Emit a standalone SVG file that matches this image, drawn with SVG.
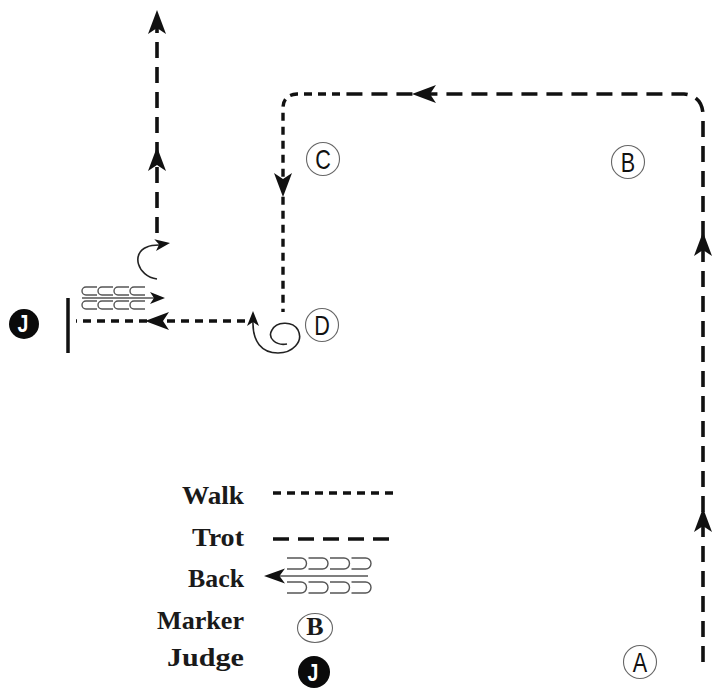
<svg xmlns="http://www.w3.org/2000/svg" xmlns:xlink="http://www.w3.org/1999/xlink" width="712" height="688" viewBox="0 0 712 688">
  <style>
    .walk { fill: none; stroke: #111; stroke-width: 3.4; stroke-dasharray: 8 6; }
    .trot { fill: none; stroke: #111; stroke-width: 3.6; stroke-dasharray: 16 9; }
    .thin { fill: none; stroke: #222; stroke-width: 1.6; }
    .back { fill: none; stroke: #555; stroke-width: 1.4; }
    .head { fill: #111; }
    .ring { fill: #fff; stroke: #666; stroke-width: 1.1; }
    .letter { font-family: "Liberation Sans", Arial, sans-serif; font-size: 27px; fill: #111; text-anchor: middle; }
    .legend { font-family: "Liberation Serif", "Times New Roman", serif; font-weight: bold; font-size: 26px; fill: #1a1a1a; }
    .judge { fill: #0a0a0a; }
    .jtext { font-family: "Liberation Sans", Arial, sans-serif; font-weight: bold; font-size: 23px; fill: #fff; text-anchor: middle; }
  </style>
  <defs>
    <!-- notched arrowheads, tip at origin, pointing along +x -->
    <path id="ah" class="head" d="M0 0 L-24 -9 L-18 0 L-24 9 Z"/>
    <path id="ahs" class="head" d="M0 0 L-15 -6 L-11 0 L-15 6 Z"/>
  </defs>

  <!-- connectors -->
  <g id="connectors">
    <!-- trot from A up the right side and across the top -->
    <path class="trot" d="M703 662 L703 114 Q702 96 684 94 L340 94"/>
    <!-- walk round the corner and down past C to D -->
    <path class="walk" d="M340 94 L297 94 Q283 95 283 108 L283 312"/>
    <!-- spiral turn at D -->
    <path class="thin" d="M287 344 C276 346 267 338 272 330 C276 322 292 320 298 330 C304 342 292 353 278 353 C262 353 252 342 253 320"/>
    <!-- walk from D toward the judge line -->
    <path class="walk" d="M245 321 L76 321"/>
    <!-- judge line -->
    <line x1="68" y1="298" x2="68" y2="353" stroke="#111" stroke-width="3.5"/>
    <!-- back-up steps -->
    <g id="back-steps" class="back">
      <path d="M97 287 H86 A4 4 0 0 0 86 295 H97"/>
      <path d="M113 287 H102 A4 4 0 0 0 102 295 H113"/>
      <path d="M129 287 H118 A4 4 0 0 0 118 295 H129"/>
      <path d="M145 287 H134 A4 4 0 0 0 134 295 H145"/>
      <path d="M97 301 H86 A4 4 0 0 0 86 309 H97"/>
      <path d="M113 301 H102 A4 4 0 0 0 102 309 H113"/>
      <path d="M129 301 H118 A4 4 0 0 0 118 309 H129"/>
      <path d="M145 301 H134 A4 4 0 0 0 134 309 H145"/>
      <line x1="82" y1="298" x2="154" y2="298"/>
    </g>
    <!-- turn on the haunches -->
    <path class="thin" d="M157 279 C137 276 131 253 147 247 C151 245 155 245 159 245"/>
    <!-- trot away from the judge -->
    <path class="trot" d="M157 233 L157 16" stroke-dasharray="17 8"/>

    <!-- arrowheads -->
    <use xlink:href="#ah" transform="translate(703 508) rotate(-90)"/>
    <use xlink:href="#ah" transform="translate(703 232) rotate(-90)"/>
    <use xlink:href="#ah" transform="translate(412 94) rotate(180)"/>
    <use xlink:href="#ah" transform="translate(283 197) rotate(90)"/>
    <use xlink:href="#ahs" transform="translate(253 311) rotate(-90)"/>
    <use xlink:href="#ah" transform="translate(145 321) rotate(180)"/>
    <use xlink:href="#ahs" transform="translate(165 298)"/>
    <use xlink:href="#ahs" transform="translate(170 243) rotate(-8)"/>
    <use xlink:href="#ah" transform="translate(157 147) rotate(-90)"/>
    <use xlink:href="#ah" transform="translate(157 10) rotate(-90)"/>
  </g>

  <!-- arena markers -->
  <g id="marker-C">
    <circle class="ring" cx="323" cy="159" r="16.5"/>
    <text class="letter" transform="translate(323 168.5) scale(0.8 1)">C</text>
  </g>
  <g id="marker-B">
    <circle class="ring" cx="628" cy="162" r="16.5"/>
    <text class="letter" transform="translate(628 171.5) scale(0.8 1)">B</text>
  </g>
  <g id="marker-D">
    <circle class="ring" cx="322" cy="325" r="16.5"/>
    <text class="letter" transform="translate(322 334.5) scale(0.8 1)">D</text>
  </g>
  <g id="marker-A">
    <circle class="ring" cx="640" cy="662" r="16.5"/>
    <text class="letter" transform="translate(640 671.5) scale(0.8 1)">A</text>
  </g>
  <g id="judge">
    <circle class="judge" cx="24" cy="324" r="15"/>
    <text class="jtext" transform="translate(23 332) scale(0.85 1)">J</text>
  </g>

  <!-- legend -->
  <g id="legend">
    <text class="legend" x="182" y="504" textLength="62" lengthAdjust="spacingAndGlyphs">Walk</text>
    <path class="walk" d="M273 493 H393" stroke-dasharray="10 7.5"/>

    <text class="legend" x="192" y="546" textLength="52" lengthAdjust="spacingAndGlyphs">Trot</text>
    <path class="trot" d="M273 539 H393" stroke-dasharray="18.5 7"/>

    <text class="legend" x="188" y="587" textLength="56" lengthAdjust="spacingAndGlyphs">Back</text>
    <g class="back">
      <path d="M287 558 H301 A5.5 5.5 0 0 1 301 569 H287"/>
      <path d="M308.5 558 H322.5 A5.5 5.5 0 0 1 322.5 569 H308.5"/>
      <path d="M330 558 H344 A5.5 5.5 0 0 1 344 569 H330"/>
      <path d="M351.5 558 H365.5 A5.5 5.5 0 0 1 365.5 569 H351.5"/>
      <path d="M287 582 H301 A5.5 5.5 0 0 1 301 593 H287"/>
      <path d="M308.5 582 H322.5 A5.5 5.5 0 0 1 322.5 593 H308.5"/>
      <path d="M330 582 H344 A5.5 5.5 0 0 1 344 593 H330"/>
      <path d="M351.5 582 H365.5 A5.5 5.5 0 0 1 365.5 593 H351.5"/>
      <line x1="275" y1="576" x2="368" y2="576"/>
    </g>
    <path class="head" d="M264 576 L285 568.5 L279.5 576 L285 583.5 Z"/>

    <text class="legend" x="157" y="629" textLength="87" lengthAdjust="spacingAndGlyphs">Marker</text>
    <ellipse class="ring" cx="315" cy="628" rx="17.5" ry="14.5"/>
    <text class="legend" x="315" y="635" font-size="19" text-anchor="middle">B</text>

    <text class="legend" x="167" y="666" textLength="77" lengthAdjust="spacingAndGlyphs">Judge</text>
    <circle class="judge" cx="314" cy="672" r="16"/>
    <text class="jtext" transform="translate(313 681) scale(0.85 1)">J</text>
  </g>
</svg>
